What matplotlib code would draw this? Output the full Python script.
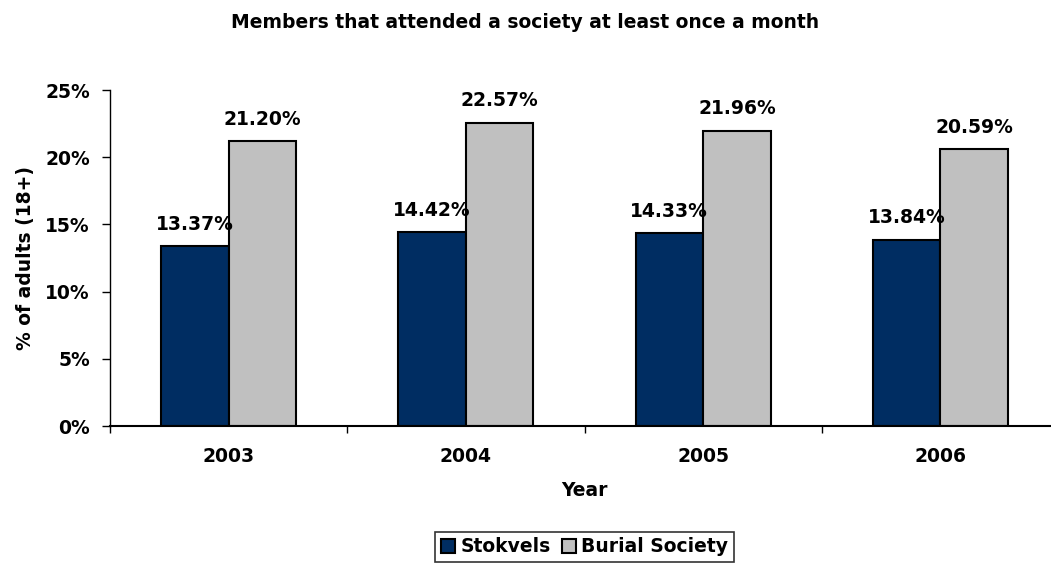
import numpy as np
import matplotlib.pyplot as plt
from matplotlib.ticker import PercentFormatter

years = ["2003", "2004", "2005", "2006"]
stokvels = [13.37, 14.42, 14.33, 13.84]
burial = [21.20, 22.57, 21.96, 20.59]

plt.rcParams["font.family"] = "DejaVu Sans"
plt.rcParams["font.weight"] = "bold"

W, H = 1051, 568
fig = plt.figure(figsize=(W / 100, H / 100), dpi=100)
ax_left, ax_w = 110, 949
ax = fig.add_axes([ax_left / W, 1 - 426 / H, ax_w / W, 336 / H])

x = np.arange(len(years))
w = 0.285
b1 = ax.bar(x - w / 2, stokvels, w, color="#002D62", edgecolor="black", linewidth=1.5,
            label="Stokvels")
b2 = ax.bar(x + w / 2, burial, w, color="#C0C0C0", edgecolor="black", linewidth=1.5,
            label="Burial Society")

# valeurs au-dessus des barres
for bars in (b1, b2):
    for r in bars:
        v = r.get_height()
        ax.annotate(f"{v:.2f}%", (r.get_x() + r.get_width() / 2, v),
                    xytext=(0, 9), textcoords="offset points",
                    ha="center", va="bottom", fontsize=13.5, fontweight="bold")

ax.set_xlim(-0.5, 3.5)
ax.set_ylim(0, 25)
ax.set_yticks([0, 5, 10, 15, 20, 25])
ax.yaxis.set_major_formatter(PercentFormatter(decimals=0))
ax.set_xticks(x)
ax.set_xticklabels(years)
ax.set_xticks(np.arange(-0.5, 4.0, 1.0), minor=True)
ax.tick_params(axis="x", which="major", length=0, pad=15, labelsize=13.5)
ax.tick_params(axis="x", which="minor", length=5, width=1, direction="out")
ax.tick_params(axis="y", length=5.5, width=1, labelsize=13.5, pad=9)
for t in ax.get_xticklabels() + ax.get_yticklabels():
    t.set_fontweight("bold")

for s in ("top", "right"):
    ax.spines[s].set_visible(False)
ax.spines["left"].set_linewidth(1)
ax.spines["bottom"].set_linewidth(1.5)

ax.set_xlabel("Year", fontsize=13.5, fontweight="bold", labelpad=11)
ax.set_ylabel("% of adults (18+)", fontsize=13.5, fontweight="bold", labelpad=7)
fig.text(0.5, 1 - 22 / H, "Members that attended a society at least once a month",
         ha="center", va="center", fontsize=13.5, fontweight="bold")

cx = (ax_left + ax_w / 2) / W
leg = fig.legend(loc="center", bbox_to_anchor=(cx, 1 - 547 / H), ncol=2,
                 frameon=True, fancybox=False, edgecolor="black",
                 prop={"size": 13.5, "weight": "bold"}, handlelength=0.75,
                 handleheight=0.75, handletextpad=0.3, columnspacing=0.6,
                 borderpad=0.3, borderaxespad=0)
leg.get_frame().set_linewidth(1.2)

fig.savefig("out.png", dpi=100)
